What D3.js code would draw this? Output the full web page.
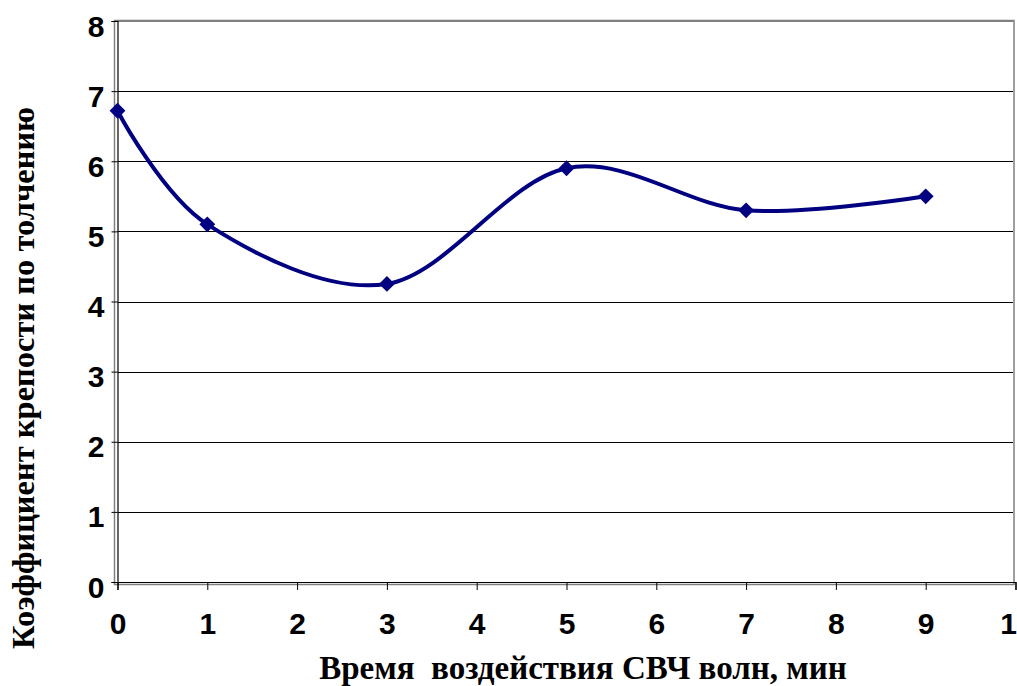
<!DOCTYPE html>
<html>
<head>
<meta charset="utf-8">
<script src="https://cdn.jsdelivr.net/npm/d3@7/dist/d3.min.js"></script>
<style>
  html, body { margin: 0; padding: 0; background: #fff; }
  svg { display: block; }
</style>
</head>
<body>
<svg id="chart" width="1017" height="686"></svg>
<script>
// Exposure time to microwaves (min) and the resulting strength coefficient
const times = [0, 1, 3, 5, 7, 9];
const strength = [6.72, 5.1, 4.25, 5.9, 5.3, 5.5];
const xTicks = [0, 1, 2, 3, 4, 5, 6, 7, 8, 9, 10];
const xTickLabels = ["0", "1", "2", "3", "4", "5", "6", "7", "8", "9", "1"];
const yTicks = [0, 1, 2, 3, 4, 5, 6, 7, 8];
const xTitle = "Время  воздействия СВЧ волн, мин";
const yTitle = "Коэффициент крепости по толчению";

const svg = d3.select("#chart");
const plotLeft = 117.5, plotRight = 1015.5, plotTop = 21, plotBottom = 582;

const x = d3.scaleLinear().domain([0, 10]).range([plotLeft, plotRight]);
const y = d3.scaleLinear().domain([0, 8]).range([plotBottom, plotTop]);

// plot-area frame
svg.append("rect")
  .attr("x", 114.5).attr("y", plotTop - 0.5)
  .attr("width", 1014 - 114.5).attr("height", plotBottom + 3 - plotTop)
  .attr("fill", "none").attr("stroke", "#808080").attr("stroke-width", 1.5);

// horizontal gridlines
svg.append("g").selectAll("line")
  .data(yTicks.filter(d => d > 0))
  .join("line")
  .attr("x1", plotLeft).attr("x2", 1013)
  .attr("y1", d => Math.round(y(d)) + 0.5).attr("y2", d => Math.round(y(d)) + 0.5)
  .attr("stroke", d => d === 8 ? "#808080" : "#000").attr("stroke-width", 1);

const tickFont = "'Liberation Sans', Arial, sans-serif";

// y axis
const yAxis = d3.axisLeft(y).tickValues(yTicks).tickSize(6).tickPadding(12)
  .tickFormat(d3.format("d"));
const gy = svg.append("g").attr("transform", `translate(${plotLeft},0)`).call(yAxis);
gy.select(".domain").attr("stroke", "#000").attr("stroke-width", 1.2);
gy.selectAll(".tick line").attr("stroke", "#000");
gy.selectAll(".tick text")
  .attr("font-family", tickFont)
  .attr("font-weight", "bold").attr("font-size", 30)
  .attr("fill", "#000").attr("dy", null).attr("y", 15).attr("x", -13);

// x axis
const xAxis = d3.axisBottom(x).tickValues(xTicks).tickSize(8).tickPadding(12)
  .tickFormat((d, i) => xTickLabels[i]);
const gx = svg.append("g").attr("transform", `translate(0,${plotBottom})`).call(xAxis);
gx.select(".domain").attr("stroke", "#000").attr("stroke-width", 1.2);
gx.selectAll(".tick line").attr("stroke", "#000");
gx.selectAll(".tick text")
  .attr("font-family", tickFont)
  .attr("font-weight", "bold").attr("font-size", 30)
  .attr("fill", "#000").attr("dy", null).attr("y", 52);
// the last label sits at the right edge of the drawing
gx.selectAll(".tick text").filter(d => d === 10)
  .attr("text-anchor", "end").attr("x", 1);

// smoothed series line
const pts = times.map((t, i) => [t, strength[i]]);
const line = d3.line().x(d => x(d[0])).y(d => y(d[1])).curve(d3.curveCardinal.tension(0));
svg.append("path")
  .attr("d", line(pts))
  .attr("fill", "none").attr("stroke", "#000080").attr("stroke-width", 4)
  .attr("stroke-linejoin", "round");

// diamond markers
const marker = d3.symbol().type(d3.symbolSquare).size(125);
svg.append("g").selectAll("path")
  .data(pts)
  .join("path")
  .attr("d", marker)
  .attr("transform", d => `translate(${x(d[0])},${y(d[1])}) rotate(45)`)
  .attr("fill", "#000080");

// axis titles
const titleFont = "'Liberation Serif', 'Times New Roman', serif";
svg.append("text")
  .attr("x", 583).attr("y", 679)
  .attr("text-anchor", "middle")
  .attr("font-family", titleFont)
  .attr("font-weight", "bold").attr("font-size", 33)
  .style("white-space", "pre")
  .text(xTitle);

svg.append("text")
  .attr("transform", "translate(34,378) rotate(-90)")
  .attr("text-anchor", "middle")
  .attr("font-family", titleFont)
  .attr("font-weight", "bold").attr("font-size", 32.5)
  .text(yTitle);
</script>
</body>
</html>
